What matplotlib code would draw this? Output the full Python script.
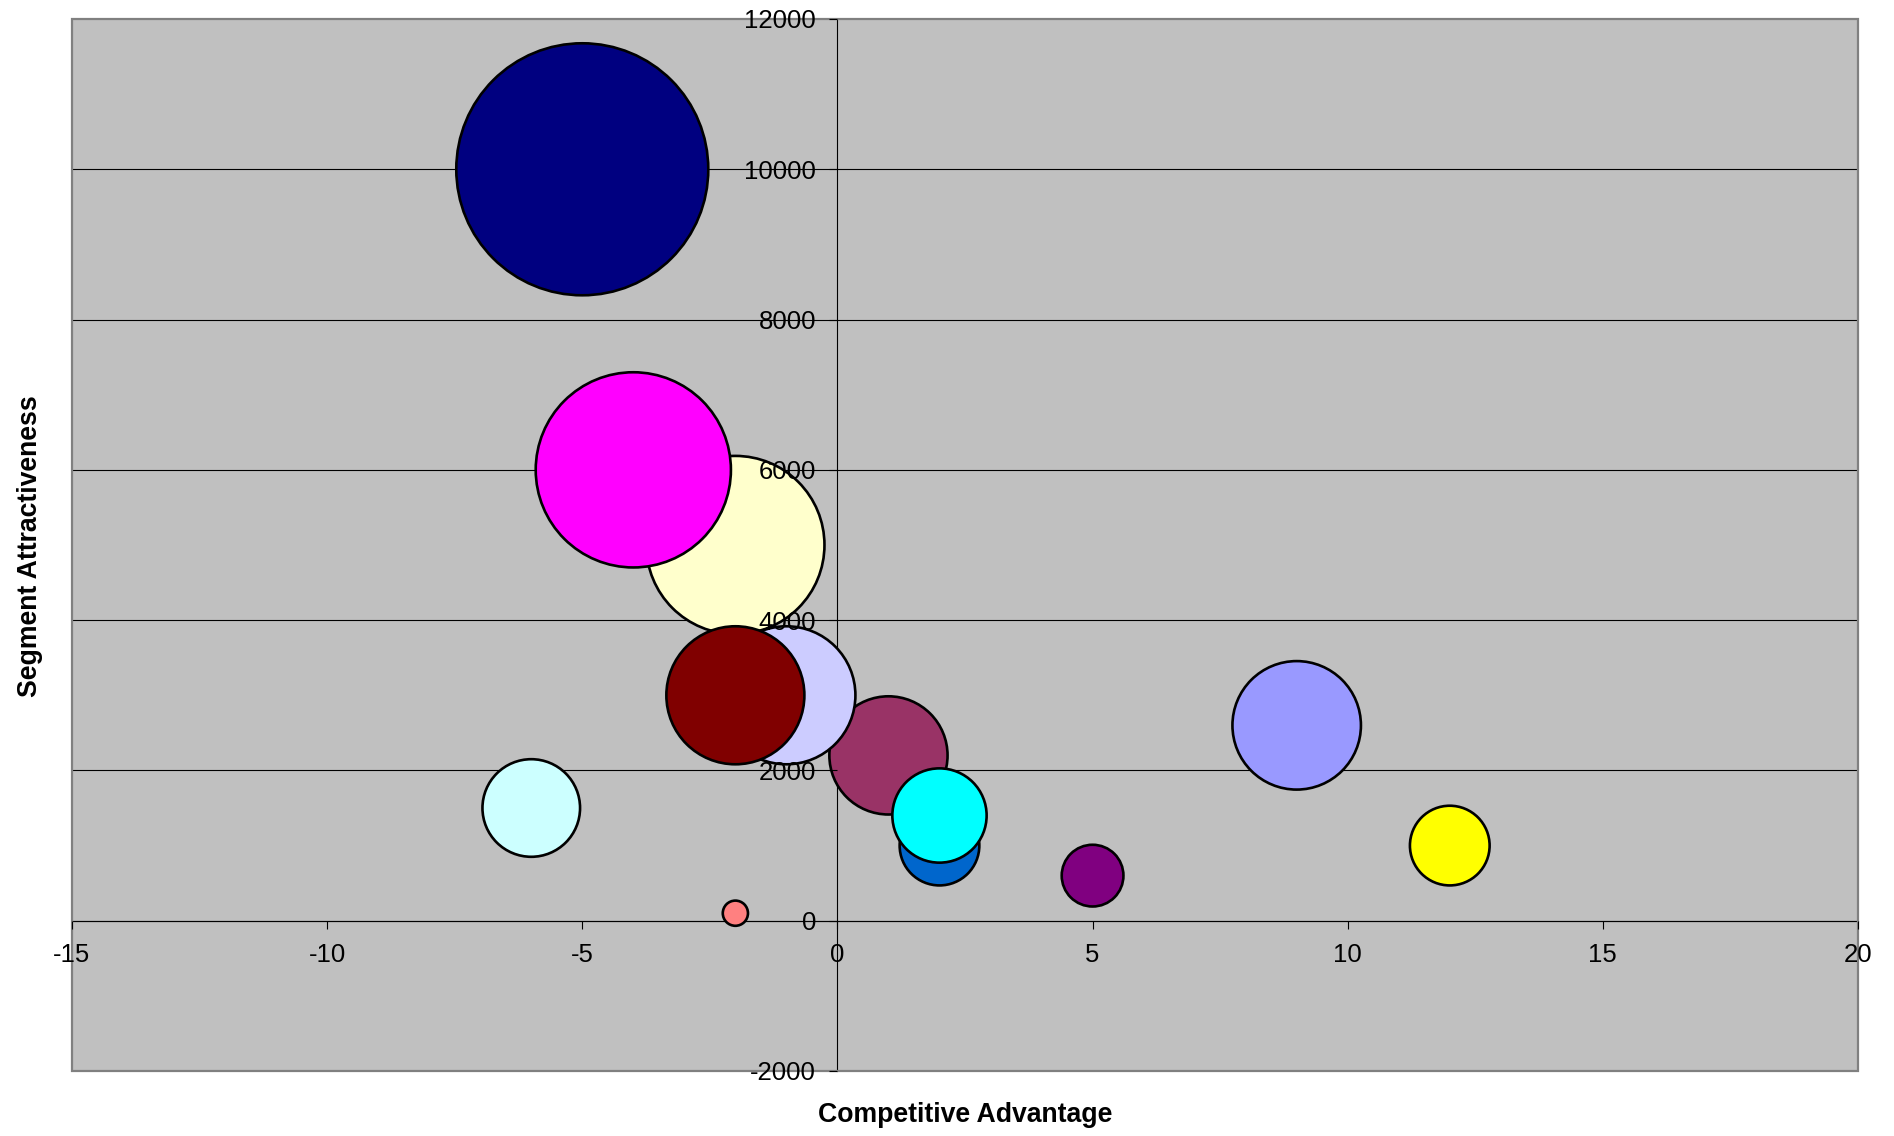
import numpy as np
import matplotlib
matplotlib.use("Agg")
import matplotlib.pyplot as plt
from matplotlib.patches import Rectangle

plt.rcParams['font.family'] = ['Liberation Sans', 'DejaVu Sans']
plt.rcParams['axes.unicode_minus'] = False

# segments, in drawing order (later ones sit on top)
advantage = [-5, -2, 1, -4, -1, -2, 2, 2, 5, 9, 12, -6, -2]
attractiveness = [10000, 5000, 2200, 6000, 3000, 3000, 1000, 1400, 600, 2600, 1000, 1500, 100]
bubble_size = [10000, 5000, 2200, 6000, 3000, 3000, 1000, 1400, 600, 2600, 1000, 1500, 100]
colors = ['#000080', '#FFFFCC', '#993366', '#FF00FF', '#CCCCFF', '#800000',
          '#0066CC', '#00FFFF', '#800080', '#9999FF', '#FFFF00', '#CCFFFF', '#FF8080']

x_ticks = [-15, -10, -5, 0, 5, 10, 15, 20]
y_ticks = [-2000, 0, 2000, 4000, 6000, 8000, 10000, 12000]

W, H, DPI = 1894, 1136, 100
fig = plt.figure(figsize=(W / DPI, H / DPI), dpi=DPI)
ax = fig.add_axes([72 / W, 1 - 1071 / H, 1786 / W, 1052 / H])
ax.set_facecolor('#C0C0C0')
ax.set_xlim(x_ticks[0], x_ticks[-1])
ax.set_ylim(y_ticks[0], y_ticks[-1])

# horizontal gridlines behind the bubbles
for v in y_ticks[1:-1]:
    ax.axhline(v, color='black', lw=0.8, zorder=0.5)

# bubble area proportional to size, largest one ~126 px radius
r_px = 126 * np.sqrt(np.array(bubble_size) / max(bubble_size))
s = (2 * r_px * 72 / DPI) ** 2
ax.scatter(advantage, attractiveness, s=s, c=colors, edgecolors='black',
           linewidths=1.9, zorder=2)

# axes cross at the origin
ax.spines['left'].set_position(('data', 0))
ax.spines['bottom'].set_position(('data', 0))
ax.spines['top'].set_visible(False)
ax.spines['right'].set_visible(False)
for sp in ('left', 'bottom'):
    ax.spines[sp].set_color('black')
    ax.spines[sp].set_linewidth(0.8)
    ax.spines[sp].set_zorder(0.6)
ax.set_axisbelow(False)

ax.add_patch(Rectangle((0, 0), 1, 1, transform=ax.transAxes, fill=False,
                       edgecolor='#808080', lw=1.6, clip_on=False, zorder=0.8))

ax.set_xticks(x_ticks)
ax.set_yticks(y_ticks)
ax.set_xticklabels([str(t) for t in x_ticks])
ax.set_yticklabels([str(t) for t in y_ticks])
ax.tick_params(axis='both', direction='out', length=5.8, width=0.8,
               labelsize=18.5, color='black')
ax.tick_params(axis='x', pad=10)
ax.tick_params(axis='y', pad=9.5)

fig.text(965 / W, 1 - 1115 / H, 'Competitive Advantage', ha='center', va='center',
         fontsize=19.2, fontweight='bold')
fig.text(30 / W, 1 - 546 / H, 'Segment Attractiveness', ha='center', va='center',
         rotation=90, fontsize=19.2, fontweight='bold')

fig.savefig('out.png', dpi=DPI, facecolor='white')
